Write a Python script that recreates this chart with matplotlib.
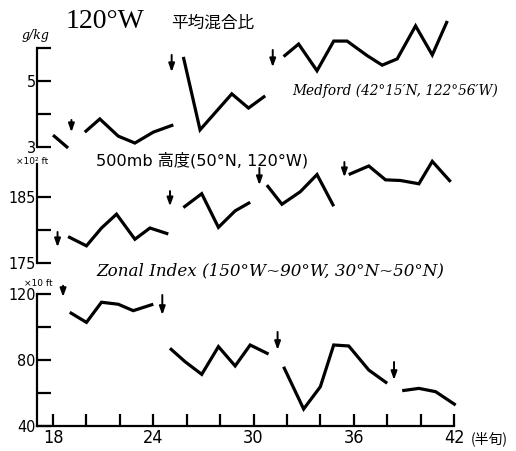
import matplotlib
matplotlib.use("Agg")
import matplotlib.pyplot as plt

# ---------------- data ----------------
# 平均混合比 (g/kg), Medford
mix_x = [[18.0, 18.9],
         [19.9, 20.8, 21.9, 22.9, 24.0, 25.2],
         [25.8, 26.8, 28.7, 29.7, 30.7],
         [31.8, 32.7, 33.8, 34.8, 35.6, 36.8, 37.7, 38.6, 39.7, 40.7, 41.6]]
mix_y = [[3.36, 2.97],
         [3.45, 3.85, 3.33, 3.12, 3.45, 3.67],
         [5.73, 3.52, 4.61, 4.18, 4.55],
         [5.74, 6.12, 5.31, 6.21, 6.21, 5.77, 5.48, 5.67, 6.67, 5.79, 6.82]]
mix_arrow_x = [19.1, 25.1, 31.15]
mix_arrow_top = [3.82, 5.79, 5.94]
mix_arrow_bot = [3.45, 5.27, 5.42]

# 500mb 高度 (x10^2 ft)
hgt_x = [[18.9, 20.0, 20.9, 21.8, 22.9, 23.8, 24.9],
         [25.8, 26.9, 27.9, 28.9, 29.8],
         [30.8, 31.7, 32.8, 33.8, 34.8],
         [35.7, 36.9, 37.9, 38.8, 39.9, 40.7, 41.8]]
hgt_y = [[179.0, 177.6, 180.3, 182.4, 178.6, 180.3, 179.4],
         [183.4, 185.5, 180.4, 182.9, 184.2],
         [186.8, 183.9, 185.8, 188.4, 183.6],
         [188.4, 189.7, 187.6, 187.5, 187.0, 190.4, 187.3]]
hgt_arrow_x = [18.27, 25.0, 30.35, 35.44]
hgt_arrow_top = [179.7, 185.9, 189.4, 190.3]
hgt_arrow_bot = [177.4, 183.6, 186.8, 188.0]

# Zonal Index (x10 ft)
zi_x = [[19.0, 20.0, 20.9, 21.9, 22.8, 24.0],
        [25.0, 25.9, 26.9, 27.9, 28.9, 29.8, 30.9],
        [31.8, 33.0, 34.0, 34.8, 35.7, 36.9, 38.0],
        [38.9, 39.9, 40.9, 42.1]]
zi_y = [[108.9, 102.8, 115.0, 113.8, 109.9, 113.8],
        [87.1, 79.0, 71.3, 88.1, 76.4, 89.1, 83.6],
        [75.9, 50.3, 63.8, 89.1, 88.5, 73.9, 65.9],
        [61.4, 62.8, 60.8, 52.7]]
zi_arrow_x = [18.6, 24.54, 31.44, 38.41]
zi_arrow_top = [125.0, 119.4, 97.0, 78.8]
zi_arrow_bot = [118.2, 107.3, 86.1, 67.9]

x_major = [18, 24, 30, 36, 42]
x_minor = [20, 22, 26, 28, 32, 34, 38, 40]

mix_ticks = [3, 4, 5, 6]
mix_labels = ["3", "", "5", ""]
hgt_ticks = [175, 180, 185]
hgt_labels = ["175", "", "185"]
zi_ticks = [40, 60, 80, 100, 120]
zi_labels = ["40", "", "80", "", "120"]

# ---------------- layout ----------------
W, H = 516, 451
fig = plt.figure(figsize=(W / 100, H / 100), dpi=100)
NUM = ["Liberation Sans Narrow", "DejaVu Sans"]
CJK = ["DejaVu Sans", "Noto Sans CJK JP"]
XL, XR = 37, 454
XMIN, XMAX = 17.04, 42.0
LW = 2.3


def panel(top_px, bot_px, ya, va, yb, vb):
    s = (vb - va) / (ya - yb)
    lo = va + (ya - bot_px) * s
    hi = va + (ya - top_px) * s
    ax = fig.add_axes([XL / W, 1 - bot_px / H, (XR - XL) / W, (bot_px - top_px) / H])
    ax.set_xlim(XMIN, XMAX)
    ax.set_ylim(lo, hi)
    ax.patch.set_visible(False)
    for sp in ["top", "right", "bottom"]:
        ax.spines[sp].set_visible(False)
    ax.spines["left"].set_linewidth(1.6)
    ax.tick_params(axis="y", direction="in", length=10, width=1.6, pad=1,
                   labelsize=11.5)
    ax.tick_params(axis="x", which="both", bottom=False, labelbottom=False)
    return ax


def draw(ax, xs, ys, ax_x, ax_t, ax_b):
    for x, y in zip(xs, ys):
        ax.plot(x, y, color="black", lw=LW, solid_joinstyle="miter",
                solid_capstyle="butt", clip_on=False)
    for x, t, b in zip(ax_x, ax_t, ax_b):
        ax.annotate("", xy=(x, b), xytext=(x, t),
                    arrowprops=dict(arrowstyle="-|>,head_length=0.5,head_width=0.18",
                                    lw=1.4, color="black", shrinkA=0, shrinkB=0),
                    annotation_clip=False)


ax1 = panel(10, 150, 147, 3, 81, 5)
ax1.spines["left"].set_bounds(3, 6)
ax1.set_yticks(mix_ticks, mix_labels, fontfamily=NUM, fontstretch="condensed")
draw(ax1, mix_x, mix_y, mix_arrow_x, mix_arrow_top, mix_arrow_bot)

ax2 = panel(150, 272, 263, 175, 197, 185)
ax2.spines["left"].set_bounds(175, 190)
ax2.set_yticks(hgt_ticks, hgt_labels, fontfamily=NUM, fontstretch="condensed")
draw(ax2, hgt_x, hgt_y, hgt_arrow_x, hgt_arrow_top, hgt_arrow_bot)

ax3 = panel(280, 426, 426, 40, 294, 120)
ax3.spines["left"].set_bounds(40, 120)
ax3.spines["bottom"].set_visible(True)
ax3.spines["bottom"].set_linewidth(1.6)
ax3.set_yticks(zi_ticks, zi_labels, fontfamily=NUM, fontstretch="condensed")
ax3.set_xticks(x_major, [str(v) for v in x_major], fontfamily=NUM,
               fontstretch="condensed")
ax3.set_xticks(x_minor, minor=True)
ax3.tick_params(axis="x", which="both", bottom=True, labelbottom=True,
                direction="in", length=9, width=1.6, pad=2, labelsize=13)
draw(ax3, zi_x, zi_y, zi_arrow_x, zi_arrow_top, zi_arrow_bot)


def ftext(x, y, s, **kw):
    fig.text(x / W, 1 - y / H, s, va="center", ha="left", **kw)


ftext(66, 21, "120°W", fontsize=20, family="Liberation Serif")
ftext(171, 23, "平均混合比", fontsize=12, family=["Noto Sans CJK JP"])
ftext(22, 35, "g/kg", fontsize=9, family="DejaVu Serif", style="italic")
ftext(292, 91, "Medford (42°15′N, 122°56′W)", fontsize=9.8,
      family="DejaVu Serif", style="italic")
ftext(16, 161, "×10² ft", fontsize=6.5, family="DejaVu Sans")
ftext(96, 160, "500mb 高度(50°N, 120°W)", fontsize=11.6, family=CJK)
ftext(96, 271, "Zonal Index (150°W~90°W, 30°N~50°N)", fontsize=12.1,
      family="DejaVu Serif", style="italic")
ftext(24, 284, "×10 ft", fontsize=6.5, family="DejaVu Sans")
ftext(471, 439, "(半旬)", fontsize=10, family=["Noto Sans CJK JP"])

fig.savefig("out.png", dpi=100)
